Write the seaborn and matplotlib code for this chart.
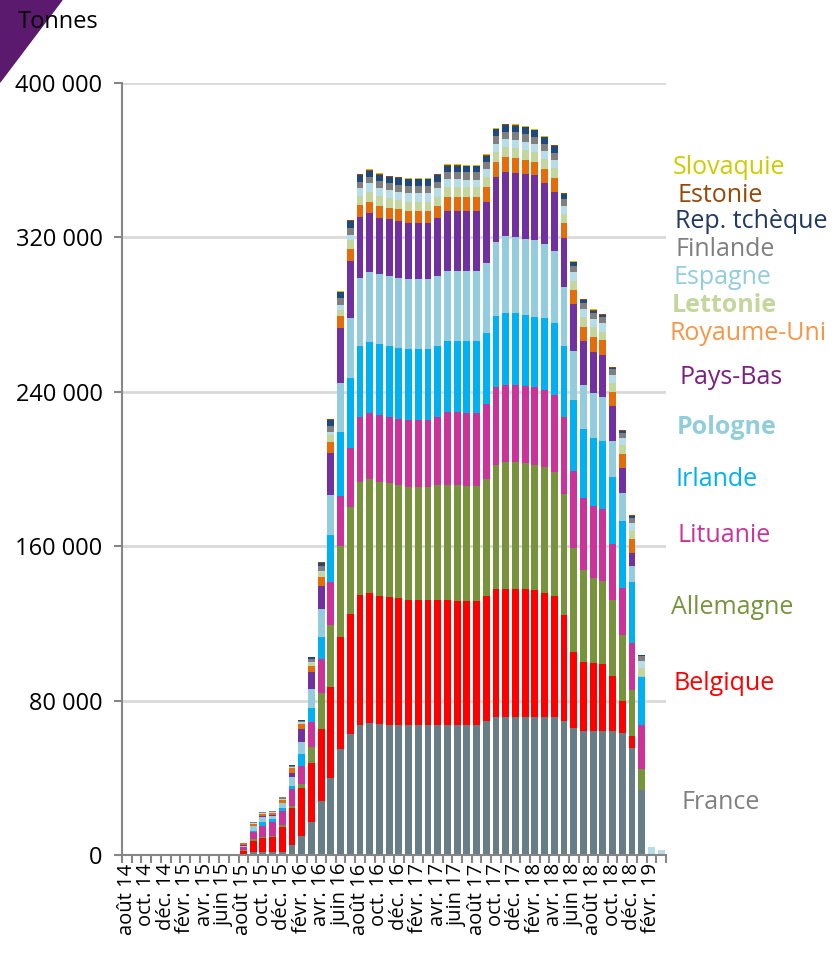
import numpy as np
import pandas as pd
import seaborn as sns
import matplotlib.pyplot as plt
from matplotlib.patches import Polygon
from matplotlib.ticker import FuncFormatter

plt.rcParams["font.family"] = ["Open Sans", "DejaVu Sans"]

# MONTHS (août 2014 -> mars 2019) #
mois = ["août 14", "sept. 14", "oct. 14", "nov. 14", "déc. 14",
        "janv. 15", "févr. 15", "mars 15", "avr. 15", "mai 15", "juin 15",
        "juil. 15", "août 15", "sept. 15", "oct. 15", "nov. 15", "déc. 15",
        "janv. 16", "févr. 16", "mars 16", "avr. 16", "mai 16", "juin 16",
        "juil. 16", "août 16", "sept. 16", "oct. 16", "nov. 16", "déc. 16",
        "janv. 17", "févr. 17", "mars 17", "avr. 17", "mai 17", "juin 17",
        "juil. 17", "août 17", "sept. 17", "oct. 17", "nov. 17", "déc. 17",
        "janv. 18", "févr. 18", "mars 18", "avr. 18", "mai 18", "juin 18",
        "juil. 18", "août 18", "sept. 18", "oct. 18", "nov. 18", "déc. 18",
        "janv. 19", "févr. 19", "mars 19"]

# STOCKS PER COUNTRY, thousand tonnes, from août 15 on (before: zero) #
france = [0.1, 1.4, 1.7, 1.7, 1.8, 5.0, 10.0, 17.0, 28.0, 39.7, 55.0, 62.5, 67.4, 68.6, 67.9,
          67.4, 67.4, 67.4, 67.4, 67.4, 67.4, 67.4, 67.4, 67.4, 67.4, 69.4, 71.7, 71.7, 71.7,
          71.7, 71.7, 71.3, 71.3, 69.4, 65.6, 64.4, 64.4, 64.4, 64.2, 63.0, 55.3, 33.7, 0, 0]
belgique = [2.1, 5.9, 6.9, 7.5, 12.7, 19.5, 24.5, 30.5, 37.5, 47.5, 58.0, 62.2, 67.3, 67.0, 66.5,
            66.5, 65.6, 64.7, 64.7, 64.7, 64.7, 64.7, 64.3, 64.3, 64.3, 65.0, 66.1, 66.1, 66.1,
            66.1, 65.6, 64.6, 62.9, 55.0, 39.8, 35.8, 34.9, 34.4, 28.5, 17.0, 6.4, 0.2, 0, 0]
allemagne = [0.2, 0.8, 0.9, 0.8, 1.2, 1.0, 2.5, 8.3, 18.3, 32.0, 47.3, 55.4, 58.4, 59.0, 59.0,
             58.7, 58.7, 58.7, 58.7, 58.7, 59.6, 59.6, 60.0, 59.7, 59.7, 60.4, 64.3, 66.0, 66.0,
             65.1, 64.8, 65.0, 64.1, 62.5, 53.5, 47.5, 44.4, 43.2, 39.4, 34.0, 23.8, 10.5, 0, 0]
lituanie = [1.9, 3.6, 5.7, 6.9, 7.3, 8.5, 9.3, 12.9, 17.9, 22.4, 25.9, 30.6, 33.7, 34.2, 34.6,
            34.2, 34.2, 34.6, 34.6, 34.6, 35.1, 37.7, 37.7, 37.6, 37.6, 38.7, 40.2, 39.7, 39.7,
            40.1, 40.2, 40.0, 40.0, 39.9, 40.1, 37.1, 37.1, 37.1, 29.0, 24.5, 24.5, 23.0, 0, 0]
irlande = [0.1, 0.9, 2.1, 1.8, 1.5, 2.0, 6.0, 7.3, 11.4, 24.2, 32.8, 36.3, 36.9, 37.2, 36.8,
           36.9, 37.0, 36.8, 36.8, 36.8, 36.9, 37.1, 37.1, 37.3, 37.3, 37.1, 37.0, 37.5, 37.5,
           36.8, 36.6, 37.2, 37.2, 36.9, 36.8, 35.9, 35.4, 35.4, 34.9, 34.7, 31.6, 25.0, 0, 0]
pologne = [0.5, 2.3, 2.6, 1.7, 2.5, 4.6, 6.4, 9.8, 14.2, 20.7, 25.6, 31.4, 35.1, 35.9, 36.1,
           36.3, 36.2, 36.1, 36.1, 36.1, 36.3, 36.3, 36.3, 36.2, 36.2, 36.3, 38.5, 39.7, 39.0,
           39.2, 39.7, 38.3, 37.7, 30.4, 25.5, 22.8, 23.0, 23.0, 18.7, 14.2, 8.3, 0.2, 0, 0]
pays_bas = [0.2, 0.3, 0.3, 0.2, 0.2, 1.7, 6.4, 8.8, 12.1, 22.0, 28.4, 29.4, 31.9, 30.6, 29.3,
            29.4, 29.6, 29.3, 29.3, 29.3, 29.9, 31.1, 31.1, 31.1, 31.1, 31.6, 33.7, 33.4, 33.5,
            33.8, 33.5, 31.6, 30.2, 25.4, 24.0, 23.0, 21.6, 21.6, 17.9, 12.9, 6.4, 0.1, 0, 0]
royaume_uni = [1.0, 0.9, 0.9, 1.2, 1.3, 2.6, 2.6, 3.3, 4.8, 5.7, 6.2, 6.0, 6.1, 6.0, 6.1,
               6.0, 6.0, 6.3, 6.3, 6.3, 6.4, 7.2, 7.2, 7.2, 7.2, 7.8, 7.7, 7.7, 7.8,
               7.5, 7.1, 7.4, 7.5, 7.8, 7.4, 7.2, 7.7, 7.8, 7.5, 7.5, 7.4, 0.3, 0.2, 0]
lettonie = [0.1, 0.2, 0.3, 0.2, 0.5, 0.5, 0.9, 1.4, 2.3, 3.4, 3.4, 4.9, 4.8, 5.2, 5.2,
            5.2, 4.7, 4.6, 4.6, 4.6, 4.8, 5.2, 5.2, 5.1, 5.1, 5.2, 5.2, 5.2, 5.2,
            5.2, 5.2, 5.2, 5.2, 4.9, 4.9, 5.2, 5.2, 4.3, 4.6, 4.6, 4.3, 3.7, 0.3, 0.6]
espagne = [0.1, 0.2, 0.2, 0.2, 0.2, 0.4, 0.4, 0.9, 0.8, 1.7, 2.4, 2.5, 3.8, 4.3, 3.9,
           4.0, 4.3, 4.3, 4.3, 4.3, 4.3, 3.8, 3.8, 3.9, 3.9, 3.9, 4.0, 4.0, 4.0,
           4.0, 4.0, 4.2, 4.0, 4.3, 4.3, 3.8, 3.8, 4.3, 4.0, 3.8, 4.2, 4.0, 3.5, 1.8]
finlande = [0.1, 0.4, 0.5, 0.6, 0.6, 0.5, 0.6, 1.5, 2.6, 3.2, 3.6, 3.8, 3.5, 3.5, 3.8,
            3.4, 3.5, 4.0, 4.0, 4.0, 3.5, 4.0, 4.0, 4.0, 4.0, 3.8, 4.1, 3.8, 3.9,
            4.0, 3.8, 3.6, 3.8, 3.3, 3.5, 3.5, 3.2, 3.1, 2.9, 2.6, 2.6, 2.4, 0.1, 0]
rep_tcheque = [0, 0.1, 0.1, 0.1, 0.2, 0.3, 0.4, 0.7, 1.4, 2.9, 2.9, 3.5, 3.4, 3.1, 3.1,
               3.5, 3.8, 3.3, 3.3, 3.3, 3.4, 3.1, 3.1, 3.0, 3.0, 3.1, 3.5, 3.4, 3.5,
               3.5, 3.3, 3.4, 3.5, 2.7, 1.7, 1.4, 1.3, 1.2, 0.9, 1.0, 1.0, 0.3, 0, 0]
estonie = [0, 0, 0, 0, 0, 0.1, 0.1, 0.3, 0.3, 0.3, 0.3, 0.3, 0.4, 0.4, 0.6,
           0.3, 0.3, 0.3, 0.3, 0.3, 0.4, 0.4, 0.4, 0.4, 0.4, 0.4, 0.3, 0.4, 0.4,
           0.4, 0.4, 0.4, 0.3, 0.4, 0.4, 0.4, 0.4, 0.3, 0.3, 0.2, 0.2, 0.1, 0.2, 0.1]
slovaquie = [0, 0, 0, 0, 0, 0, 0, 0.1, 0.2, 0.2, 0.2, 0.2, 0.2, 0.3, 0.3,
             0.2, 0.2, 0.2, 0.2, 0.2, 0.2, 0.3, 0.3, 0.3, 0.3, 0.3, 0.2, 0.2, 0.3,
             0.3, 0.3, 0.3, 0.2, 0.3, 0.3, 0.3, 0.3, 0.2, 0.2, 0.2, 0.2, 0.1, 0.1, 0.1]

pays = ["France", "Belgique", "Allemagne", "Lituanie", "Irlande", "Pologne", "Pays-Bas",
        "Royaume-Uni", "Lettonie", "Espagne", "Finlande", "Rep. tchèque", "Estonie", "Slovaquie"]
series = [france, belgique, allemagne, lituanie, irlande, pologne, pays_bas,
          royaume_uni, lettonie, espagne, finlande, rep_tcheque, estonie, slovaquie]
couleurs = ["#687E86", "#FF0000", "#77933C", "#CC3399", "#00B0F0", "#93CDDD", "#7030A0",
            "#E46C0A", "#C3D69B", "#B7DEE8", "#7F7F7F", "#1F497D", "#984807", "#CCC000"]

# legend text: colour, y position (px), x position (px), bold
couleurs_texte = ["#808080", "#FF0000", "#77933C", "#CC3399", "#00B0F0", "#92CDDC", "#7B1F82",
                  "#F79646", "#C3D69B", "#92CDDC", "#7F7F7F", "#1F3864", "#984807", "#CCCC00"]
etiquette_y = [802, 683, 607, 535, 479, 428, 377, 333, 305, 278, 250, 222, 195, 168]
etiquette_x = [681, 674, 671, 678, 675, 677, 679, 670, 672, 674, 675, 675, 677, 673]
gras = ["Pologne", "Lettonie"]

# DATAFRAME #
df = pd.DataFrame({p: (np.array([0] * 12 + s) * 1000) for p, s in zip(pays, series)}, index=mois)
cumul = df.cumsum(axis=1)

# PLOTTING #
W, H = 834, 955
fig = plt.figure(figsize=(W / 100, H / 100), dpi=100)
ax = fig.add_axes([122 / W, 100 / H, 544 / W, 772 / H])

for p, c in reversed(list(zip(pays, couleurs))):
    sns.barplot(x=mois, y=cumul[p].values, color=c, width=0.72, saturation=1,
                errorbar=None, ax=ax, zorder=2)

ax.set_xlim(-0.5, len(mois) - 0.5)
ax.set_ylim(0, 400000)
ax.set_axisbelow(True)
ax.yaxis.grid(True, color="#D9D9D9", linewidth=2)
for s in ["top", "right"]:
    ax.spines[s].set_visible(False)
for s in ["left", "bottom"]:
    ax.spines[s].set_color("#868686")
    ax.spines[s].set_linewidth(1.5)

ax.set_yticks(range(0, 400001, 80000))
ax.yaxis.set_major_formatter(FuncFormatter(lambda v, _: f"{int(v):,}".replace(",", " ")))
ax.tick_params(axis="y", length=6, width=1.5, color="#868686", labelsize=17, pad=8)

ax.set_xticks(range(0, len(mois), 2))
ax.set_xticklabels(mois[::2], rotation=90, fontsize=14.5)
ax.set_xticks(np.arange(-0.5, len(mois), 1), minor=True)
ax.tick_params(axis="x", which="major", length=0, pad=6)
ax.tick_params(axis="x", which="minor", length=6, width=1.5, color="#868686")
ax.set_xlabel("")
ax.set_ylabel("")

# corner decoration and unit #
fig.add_artist(Polygon([[0, 1], [62 / W, 1], [0, 1 - 82 / H]], closed=True,
                       transform=fig.transFigure, color="#5B1A6E", zorder=0))
fig.text(18 / W, 1 - 22 / H, "Tonnes", fontsize=17, va="center", ha="left")

# series labels #
for p, c, y, x in zip(pays, couleurs_texte, etiquette_y, etiquette_x):
    fig.text(x / W, 1 - y / H, p, color=c, fontsize=18, va="center", ha="left",
             fontweight="bold" if p in gras else "normal")

fig.savefig("out.png", dpi=100)
